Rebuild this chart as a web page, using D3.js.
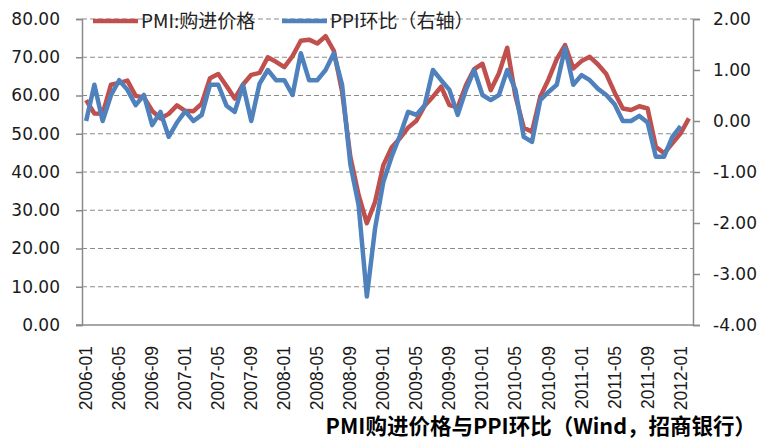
<!DOCTYPE html>
<html>
<head>
<meta charset="utf-8">
<script src="https://cdn.jsdelivr.net/npm/d3@7"></script>
<style>
  body { margin: 0; background: #fff; }
  svg { display: block; }
  .ylab { font-family: "DejaVu Sans", sans-serif; font-size: 17px; fill: #1a1a1a; }
  .xlab { font-family: "Liberation Sans", Arial, sans-serif; font-size: 17.5px; fill: #1a1a1a; }
  .leg { font-family: "Noto Sans CJK SC", sans-serif; font-size: 19px; fill: #222; }
  .title { font-family: "Noto Sans CJK SC", sans-serif; font-size: 21.5px; font-weight: bold; fill: #000; }
</style>
</head>
<body>
<svg id="chart" width="763" height="441"></svg>
<script>
// months 2006-01 .. 2012-02
var months = [];
for (var yr = 2006; yr <= 2012; yr++) {
  for (var m = 1; m <= 12; m++) {
    if (yr == 2012 && m > 2) break;
    months.push(yr + "-" + ("0" + m).slice(-2));
  }
}

// PMI:购进价格 (left axis)
var pmi = [58.8, 55.3, 55.2, 62.8, 63.3, 63.9, 59.9, 59.5, 56.0, 54.0, 55.2, 57.4,
           56.0, 55.9, 57.9, 64.5, 65.6, 62.5, 59.2, 62.9, 65.4, 65.9, 70.0, 68.8,
           67.4, 70.3, 74.3, 74.6, 73.6, 75.5, 71.7, 61.0, 44.0, 34.0, 26.6, 32.2,
           41.8, 46.4, 48.8, 51.6, 53.4, 57.3, 59.7, 62.3, 57.5, 56.9, 62.7, 66.9,
           68.3, 61.4, 65.8, 72.5, 59.8, 51.6, 50.5, 59.7, 64.2, 69.5, 73.2, 67.1,
           69.0, 70.1, 68.1, 65.6, 60.8, 56.6, 56.2, 57.2, 56.6, 46.6, 44.9, 47.5,
           50.1, 54.0];

// PPI环比 (right axis), ends 2012-01
var ppi = [0.00, 0.71, 0.00, 0.50, 0.80, 0.61, 0.31, 0.51, -0.08, 0.18, -0.31, -0.03,
           0.19, 0.00, 0.12, 0.71, 0.71, 0.30, 0.18, 0.71, 0.00, 0.73, 1.00, 0.80,
           0.80, 0.51, 1.33, 0.80, 0.80, 1.00, 1.33, 0.71, -0.85, -1.65, -3.44, -2.10,
           -1.19, -0.70, -0.29, 0.18, 0.12, 0.31, 1.00, 0.80, 0.61, 0.12, 0.61, 1.00,
           0.51, 0.41, 0.51, 1.00, 0.61, -0.31, -0.41, 0.41, 0.57, 0.71, 1.43, 0.71,
           0.90, 0.80, 0.63, 0.51, 0.33, 0.00, 0.00, 0.10, -0.03, -0.70, -0.70, -0.31,
           -0.10];

var leftTicks = [0, 10, 20, 30, 40, 50, 60, 70, 80];
var rightTicks = [-4, -3, -2, -1, 0, 1, 2];
var xTickLabels = months.filter(function(d, i) { return i % 4 == 0; });

var svg = d3.select("#chart");

// plot box (don't call these top/left, window.top is read-only)
var plotL = 82, plotR = 693, plotT = 19, plotB = 325;
var axisColor = "#8a8a8a";

var x = d3.scaleBand().domain(months).range([plotL, plotR]);
var yL = d3.scaleLinear().domain([0, 80]).range([plotB, plotT]);
var yR = d3.scaleLinear().domain([-4, 2]).range([plotB, plotT]);

function cx(d) { return x(d) + x.bandwidth() / 2; }

// dashed grid on left ticks
svg.append("g")
  .selectAll("line")
  .data(leftTicks.filter(function(d) { return d > 0; }))
  .enter().append("line")
    .attr("x1", plotL).attr("x2", plotR)
    .attr("y1", function(d) { return yL(d); })
    .attr("y2", function(d) { return yL(d); })
    .attr("stroke", axisColor)
    .attr("stroke-width", 1)
    .attr("stroke-dasharray", "5,3");

// left axis
var gL = svg.append("g")
  .attr("transform", "translate(" + plotL + ",0)")
  .call(d3.axisLeft(yL).tickValues(leftTicks).tickSize(6).tickPadding(16)
    .tickFormat(d3.format(".2f")));

// right axis
var gR = svg.append("g")
  .attr("transform", "translate(" + plotR + ",0)")
  .call(d3.axisRight(yR).tickValues(rightTicks).tickSize(7).tickPadding(13)
    .tickFormat(function(d) { return d3.format(".2f")(d).replace("−", "-"); }));

[gL, gR].forEach(function(g) {
  g.attr("font-size", null).attr("font-family", null);
  g.select(".domain").attr("stroke", axisColor).attr("stroke-width", 1.5);
  g.selectAll(".tick line").attr("stroke", axisColor).attr("stroke-width", 1.5);
  g.selectAll(".tick text").attr("class", "ylab").attr("fill", null);
});

// bottom axis line
svg.append("line")
  .attr("x1", plotL - 6).attr("x2", plotR)
  .attr("y1", plotB).attr("y2", plotB)
  .attr("stroke", axisColor).attr("stroke-width", 1.5);

// x labels
svg.append("g")
  .selectAll("text")
  .data(xTickLabels)
  .enter().append("text")
    .attr("class", "xlab")
    .attr("text-anchor", "end")
    .attr("transform", function(d) { return "translate(" + (cx(d) + 6) + ",346) rotate(-90)"; })
    .text(function(d) { return d; });

// lines
var lineL = d3.line()
  .x(function(d, i) { return cx(months[i]); })
  .y(function(d) { return yL(d); });

var lineR = d3.line()
  .x(function(d, i) { return cx(months[i]); })
  .y(function(d) { return yR(d); });

svg.append("path")
  .attr("d", lineL(pmi))
  .attr("fill", "none")
  .attr("stroke", "#c0504d")
  .attr("stroke-width", 4.5)
  .attr("stroke-linejoin", "round");

svg.append("path")
  .attr("d", lineR(ppi))
  .attr("fill", "none")
  .attr("stroke", "#4f81bd")
  .attr("stroke-width", 4.5)
  .attr("stroke-linejoin", "round");

// legend
var legend = [
  { name: "PMI:购进价格", color: "#c0504d", x: 93 },
  { name: "PPI环比（右轴）", color: "#4f81bd", x: 282 }
];
var lg = svg.append("g");
legend.forEach(function(l) {
  lg.append("line")
    .attr("x1", l.x).attr("x2", l.x + 45)
    .attr("y1", 21).attr("y2", 21)
    .attr("stroke", l.color).attr("stroke-width", 4.5);
  lg.append("text")
    .attr("class", "leg")
    .attr("x", l.x + 48).attr("y", 28)
    .text(l.name);
});

// caption
svg.append("text")
  .attr("class", "title")
  .attr("x", 756).attr("y", 434)
  .attr("text-anchor", "end")
  .text("PMI购进价格与PPI环比（Wind，招商银行）");
</script>
</body>
</html>
